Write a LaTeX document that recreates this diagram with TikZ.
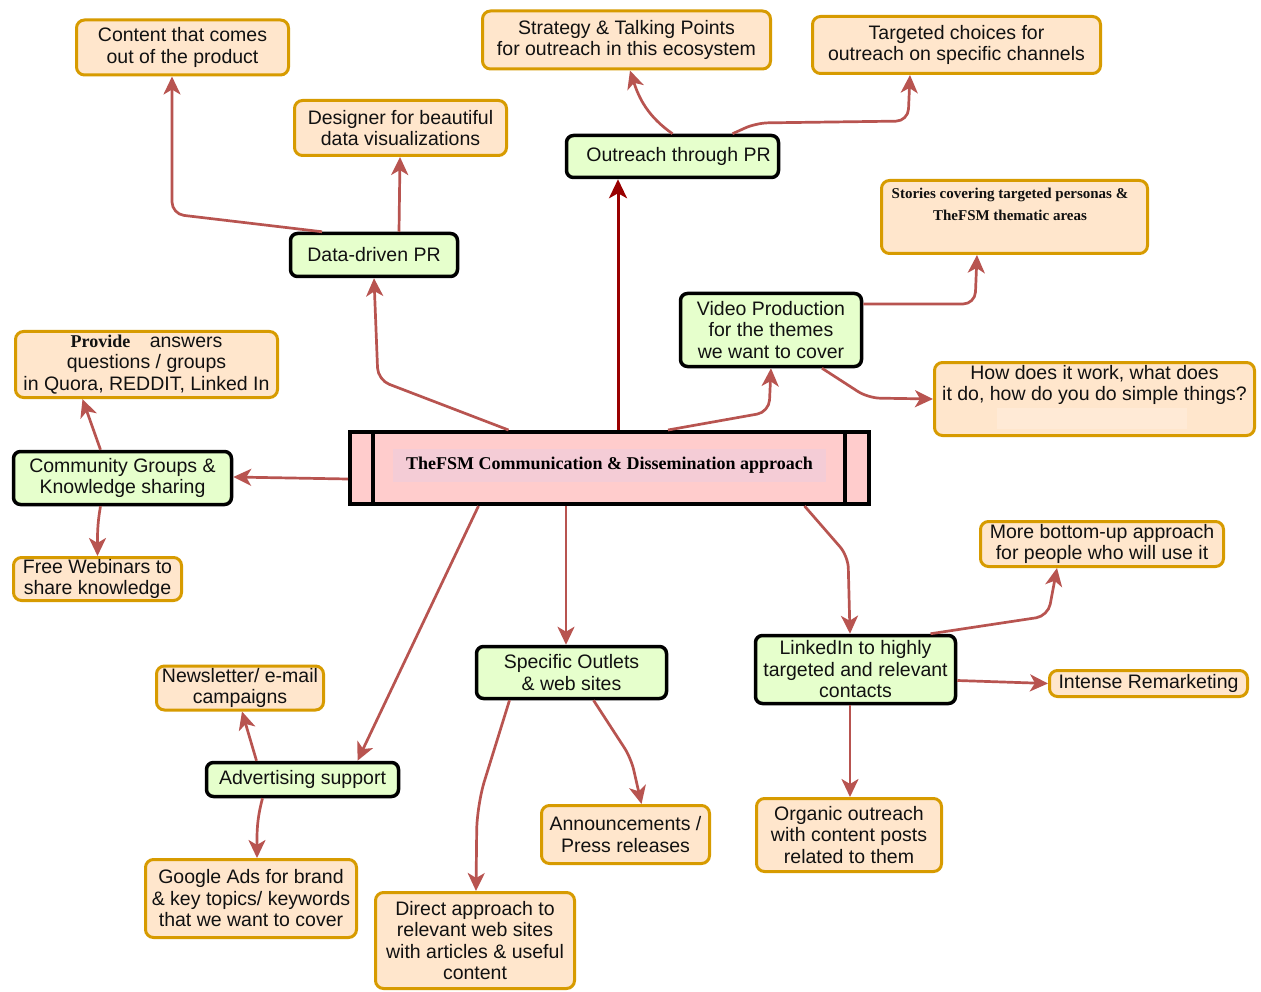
\documentclass[tikz,border=0pt]{standalone}
\usepackage{fontspec}
\setmainfont{Liberation Sans}
\newfontfamily\serifb{Liberation Serif}
\usetikzlibrary{arrows.meta}
\definecolor{ofill}{HTML}{FFE6CC}
\definecolor{odraw}{HTML}{D79B00}
\definecolor{gfill}{HTML}{E6FFCC}
\definecolor{edgec}{HTML}{B85450}
\definecolor{pfill}{HTML}{FFCCCC}
\definecolor{pinner}{HTML}{F4CCD6}
\definecolor{txtc}{HTML}{111111}
\definecolor{dred}{HTML}{990000}
\definecolor{band}{HTML}{FFEAD6}
\begin{document}
\begin{tikzpicture}[x=1pt,y=-1pt,
  basefont/.style={font=\fontsize{19.5}{21.5}\selectfont},
  obox/.style={draw=odraw, fill=ofill, line width=3pt, rounded corners=8pt, align=center, inner sep=1pt, text=txtc, basefont},
  gbox/.style={draw=black, fill=gfill, line width=3.5pt, rounded corners=7pt, align=center, inner sep=1pt, text=txtc, basefont},
  plain/.style={align=center, inner sep=0pt, text=txtc},
  edge/.style={draw=edgec, line width=2.7pt, -{Stealth[length=18pt,width=17pt,inset=5pt]}, rounded corners=12pt},
  redge/.style={draw=dred, line width=3pt, -{Stealth[length=19pt,width=18pt,inset=5pt]}},
]
\useasboundingbox[fill=white] (0,0) rectangle (1261,992);

% orange boxes
\node[obox, minimum width=212pt, minimum height=55pt] (content) at (182.5,47.5) {Content that comes\\out of the product};
\node[obox, minimum width=212pt, minimum height=55pt] (designer) at (400.5,128) {Designer for beautiful\\data visualizations};
\node[obox, minimum width=288pt, minimum height=58pt] (strategy) at (626.5,40) {Strategy \& Talking Points\\for outreach in this ecosystem};
\node[obox, minimum width=288pt, minimum height=57pt] (targeted) at (956.5,45) {Targeted choices for\\outreach on specific channels};
\node[obox, minimum width=266pt, minimum height=73pt] (stories) at (1014.5,217) {};
\node[plain, font=\serifb\bfseries\fontsize{15}{22}\selectfont] (storiestext) at (1010,204) {Stories covering targeted personas \&\\TheFSM thematic areas};
\node[obox, minimum width=320pt, minimum height=73pt] (how) at (1094.5,399) {};
\node[fill=band, minimum width=190pt, minimum height=21pt, inner sep=0pt] (howband) at (1092,418) {};
\node[plain, basefont] (howtext) at (1094.5,385) {How does it work, what does\\it do, how do you do simple things?};
\node[obox, minimum width=262pt, minimum height=66pt] (provide) at (146.5,364.5) {{\serifb\bfseries\fontsize{18}{21.5}\selectfont Provide}\quad answers\\questions / groups\\in Quora, REDDIT, Linked In};
\node[obox, minimum width=168pt, minimum height=43pt] (webinars) at (97.5,579) {Free Webinars to\\share knowledge};
\node[obox, minimum width=243pt, minimum height=45pt] (more) at (1102,544) {More bottom-up approach\\for people who will use it};
\node[obox, minimum width=198pt, minimum height=26pt] (intense) at (1148.5,683.5) {Intense Remarketing};
\node[obox, minimum width=167pt, minimum height=44pt] (newsletter) at (240,688) {Newsletter/ e-mail\\campaigns};
\node[obox, minimum width=168pt, minimum height=58pt] (announce) at (625.5,834.5) {Announcements /\\Press releases};
\node[obox, minimum width=185pt, minimum height=73pt] (organic) at (849,835) {Organic outreach\\with content posts\\related to them};
\node[obox, minimum width=211pt, minimum height=78pt] (google) at (251,898.5) {Google Ads for brand\\\& key topics/ keywords\\that we want to cover};
\node[obox, minimum width=199pt, minimum height=96pt] (direct) at (475,940.5) {Direct approach to\\relevant web sites\\with articles \& useful\\content};

% green boxes
\node[gbox, minimum width=212pt, minimum height=42pt] (outreach) at (672.5,156.5) {\hspace*{12pt}Outreach through PR};
\node[gbox, minimum width=167pt, minimum height=43pt] (datapr) at (374,255) {Data-driven PR};
\node[gbox, minimum width=181pt, minimum height=73pt] (video) at (771,330) {Video Production\\for the themes\\we want to cover};
\node[gbox, minimum width=218pt, minimum height=53pt] (community) at (122.5,478) {Community Groups \&\\Knowledge sharing};
\node[gbox, minimum width=190pt, minimum height=52pt] (specific) at (571.5,672.5) {Specific Outlets\\\& web sites};
\node[gbox, minimum width=200pt, minimum height=68pt] (linkedin) at (855.5,669.5) {LinkedIn to highly\\targeted and relevant\\contacts};
\node[gbox, minimum width=192pt, minimum height=34pt] (advertising) at (302.5,779.5) {Advertising support};

% central process box
\node[draw=black, line width=4pt, fill=pfill, minimum width=519pt, minimum height=72pt, inner sep=0pt] (central) at (609.5,468) {};
\draw[line width=4pt] ([xshift=25pt]central.north west) -- ([xshift=25pt]central.south west);
\draw[line width=4pt] ([xshift=-26pt]central.north east) -- ([xshift=-26pt]central.south east);
\node[fill=pinner, minimum width=433pt, minimum height=33pt, inner sep=0pt, text=black, font=\serifb\bfseries\fontsize{18}{20}\selectfont] (centraltext) at (609.5,465.5) {TheFSM Communication \& Dissemination approach};

% connectors
\draw[edge] ([xshift=-101pt]central.north) -- (378,380) -- (datapr.south);
\draw[edge] ([xshift=-52pt]datapr.north) -- (172,214) -- ([xshift=-10.5pt]content.south);
\draw[edge] ([xshift=25pt]datapr.north) -- ([xshift=-0.5pt]designer.south);
\draw[redge] ([xshift=8.5pt]central.north) -- ([xshift=-54.5pt]outreach.south);
\draw[edge] (outreach.north) to[out=145,in=-72] ([xshift=3.5pt]strategy.south);
\draw[edge] ([xshift=60pt]outreach.north) -- (756,123) -- (908,121) -- ([xshift=-46.5pt]targeted.south);
\draw[edge] ([xshift=58.5pt]central.north) -- (769,412) -- (video.south);
\draw[edge] ([yshift=26pt]video.east) -- (975,304) -- ([xshift=-37.5pt]stories.south);
\draw[edge] ([xshift=51pt]video.south) -- (868,398) -- (how.west);
\draw[edge] ([yshift=-11pt]central.west) -- ([yshift=1pt]community.east);
\draw[edge] ([xshift=-22pt]community.north) -- ([xshift=-64pt]provide.south);
\draw[edge] ([xshift=-22pt]community.south) to[out=-100,in=90] (webinars.north);
\draw[edge] ([xshift=-131pt]central.south) -- ([xshift=55pt]advertising.north);
\draw[edge] ([xshift=-46pt]advertising.north) -- ([xshift=2pt]newsletter.south);
\draw[edge] ([xshift=-40pt]advertising.south) to[out=-105,in=90] ([xshift=6pt]google.north);
\draw[edge] ([xshift=-43.5pt]central.south) -- ([xshift=-5.5pt]specific.north);
\draw[edge] ([xshift=22pt]specific.south) -- (631,758) -- ([xshift=16pt]announce.north);
\draw[edge, rounded corners=25pt] ([xshift=-62pt]specific.south) -- (477,805) -- ([xshift=1pt]direct.north);
\draw[edge] ([xshift=195pt]central.south) -- (848,556) -- ([xshift=-5.5pt]linkedin.north);
\draw[edge] ([xshift=75pt]linkedin.north) -- (1048,616) -- ([xshift=-45pt]more.south);
\draw[edge] ([yshift=-11pt]linkedin.east) -- (intense.west);
\draw[edge] ([xshift=-5.5pt]linkedin.south) -- ([xshift=1pt]organic.north);
\end{tikzpicture}
\end{document}
